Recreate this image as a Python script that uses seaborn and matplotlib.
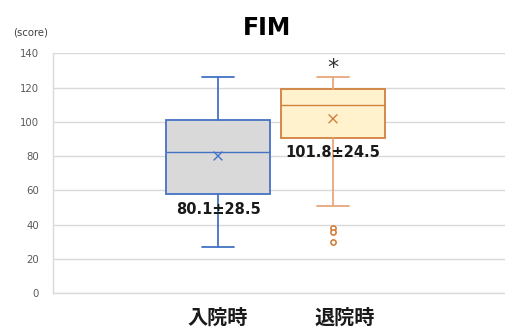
import matplotlib
matplotlib.use("Agg")
import matplotlib.pyplot as plt
import seaborn as sns
import pandas as pd

# Summary statistics of the FIM score at admission and at discharge
groups = ["入院時", "退院時"]
whisker_low = [27, 51]
q1 = [58, 90.5]
median = [82.5, 110]
q3 = [101, 119]
whisker_high = [126, 126]
mean = [80.1, 101.8]
sd = [28.5, 24.5]
outliers = [[], [38, 36, 30]]
yticks = [0, 20, 40, 60, 80, 100, 120, 140]

sns.set_theme(style="white")
plt.rcParams["font.family"] = ["Noto Sans CJK JP", "DejaVu Sans"]

fig = plt.figure(figsize=(5.05, 3.27), dpi=100)
ax = fig.add_axes([0.105, 0.103, 0.895, 0.734])

faces = ["#D9D9D9", "#FFF2CC"]
edges = ["#4472C4", "#D0803E"]
whisk = ["#4472C4", "#E8A77A"]

stats = []
for i in range(len(groups)):
    stats.append(dict(label=groups[i], whislo=whisker_low[i], q1=q1[i], med=median[i],
                      q3=q3[i], whishi=whisker_high[i], mean=mean[i], fliers=[]))

positions = list(range(len(groups)))
for i, s in enumerate(stats):
    ax.bxp([s], positions=[positions[i]], widths=0.9, patch_artist=True,
           showmeans=False, showfliers=False,
           boxprops=dict(facecolor=faces[i], edgecolor=edges[i], linewidth=1.3),
           medianprops=dict(color=edges[i], linewidth=1.0),
           whiskerprops=dict(color=whisk[i], linewidth=1.3),
           capprops=dict(color=whisk[i], linewidth=1.3),
           capwidths=0.27, manage_ticks=False, zorder=3)

# Means drawn as crosses
mean_df = pd.DataFrame({"x": positions, "y": mean, "g": groups})
sns.scatterplot(data=mean_df, x="x", y="y", hue="g", palette=edges, marker="x",
                s=40, linewidth=1.0, legend=False, ax=ax, zorder=4)

# Outlying points
out_rows = [(positions[i], v) for i in range(len(groups)) for v in outliers[i]]
out_df = pd.DataFrame(out_rows, columns=["x", "y"])
sns.scatterplot(data=out_df, x="x", y="y", marker="o", s=14, facecolor="white",
                edgecolor=edges[1], linewidth=1.2, legend=False, ax=ax, zorder=4)

# Mean ± SD labels
ax.text(positions[0], q1[0] - 9, f"{mean[0]}±{sd[0]}", ha="center", va="center",
        fontsize=10.5, fontweight="bold", color="#1a1a1a", family=["DejaVu Sans"], zorder=5)
ax.text(positions[1], q1[1] - 8.5, f"{mean[1]}±{sd[1]}", ha="center", va="center",
        fontsize=10.5, fontweight="bold", color="#1a1a1a", family=["DejaVu Sans"], zorder=5)
ax.text(positions[1], 131.5, "*", ha="center", va="center", fontsize=16, color="#333333",
        family=["DejaVu Sans"])

ax.set_ylim(0, 140)
ax.set_xlim(-1.435, 2.496)
ax.set_yticks(yticks)
ax.set_yticklabels([str(t) for t in yticks], fontsize=7.3, color="#595959",
                   family=["DejaVu Sans"])
ax.set_xticks([positions[0], positions[1] + 0.1])
ax.set_xticklabels(groups, fontsize=14.5, fontweight="bold", color="#1a1a1a")
ax.tick_params(axis="x", length=0, pad=10)
ax.tick_params(axis="y", length=0, pad=10)
ax.grid(axis="y", color="#D9D9D9", linewidth=1.0, zorder=0)
ax.set_axisbelow(True)
ax.set_xlabel("")
ax.set_ylabel("")
for side in ["top", "right"]:
    ax.spines[side].set_visible(False)
ax.spines["left"].set_color("#D9D9D9")
ax.spines["bottom"].set_color("#D9D9D9")
ax.spines["left"].set_linewidth(1.0)
ax.spines["bottom"].set_linewidth(1.0)

fig.text(0.528, 0.915, "FIM", ha="center", va="center", fontsize=17, fontweight="bold",
         color="#000000", family=["DejaVu Sans"])
fig.text(0.025, 0.90, "(score)", ha="left", va="center", fontsize=7.3, color="#404040",
         family=["DejaVu Sans"])

fig.savefig("out.png", dpi=100)
